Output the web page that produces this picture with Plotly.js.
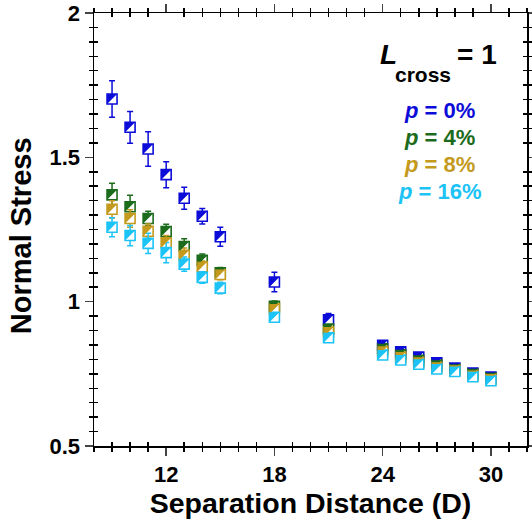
<!DOCTYPE html>
<html><head><meta charset="utf-8">
<script src="https://cdn.plot.ly/plotly-3.0.1.min.js"></script>
<style>html,body{margin:0;padding:0;background:#fff}#chart{width:532px;height:531px}</style>
</head><body><div id="chart"></div>
<script>
var distance = [9,10,11,12,13,14,15,18,21,24,25,26,27,28,29,30];
var seriesNames = ['p = 0%','p = 4%','p = 8%','p = 16%'];
var stressP0  = [1.702,1.604,1.529,1.440,1.358,1.296,1.225,1.068,0.937,0.849,0.826,0.808,0.788,0.770,0.753,0.739];
var errP0     = [0.063,0.055,0.060,0.045,0.038,0.027,0.033,0.034,0.022,0.008,0.008,0.008,0.008,0.008,0.008,0.008];
var stressP4  = [1.370,1.329,1.288,1.243,1.191,1.143,1.100,0.984,0.905,0.837,0.816,0.797,0.780,0.766,0.750,0.736];
var errP4     = [0.040,0.040,0.025,0.025,0.027,0.022,0.018,0.018,0.012,0.006,0.006,0.006,0.006,0.006,0.006,0.006];
var stressP8  = [1.320,1.288,1.244,1.204,1.161,1.121,1.094,0.975,0.895,0.828,0.808,0.790,0.773,0.762,0.744,0.732];
var errP8     = [0.030,0.030,0.025,0.025,0.025,0.020,0.018,0.015,0.012,0.006,0.006,0.006,0.006,0.006,0.006,0.006];
var stressP16 = [1.258,1.229,1.202,1.170,1.130,1.084,1.047,0.946,0.875,0.815,0.798,0.783,0.767,0.758,0.740,0.726];
var errP16    = [0.033,0.035,0.035,0.035,0.025,0.020,0.020,0.015,0.012,0.006,0.006,0.006,0.006,0.006,0.006,0.006];
var colors = ['#0c0cd8','#1c6b1c','#c49a1e','#1cc3f6'];
var xTicks = [12,18,24,30];
var yTicks = [0.5,1,1.5,2];

var ys = [stressP0, stressP4, stressP8, stressP16];
var es = [errP0, errP4, errP8, errP16];

var traces = [];
var shapes = [];
var half = 5;
for (var s = 0; s < 4; s++) {
  traces.push({
    type: 'scatter', mode: 'markers', name: seriesNames[s],
    x: distance, y: ys[s],
    error_y: {type: 'data', array: es[s], visible: true, color: colors[s], thickness: 1.5, width: 3},
    marker: {symbol: 'square', size: 2*half, color: '#ffffff', line: {color: colors[s], width: 1.6}},
    showlegend: false, cliponaxis: false
  });
}
for (var s2 = 0; s2 < 4; s2++) {
  for (var i = 0; i < distance.length; i++) {
    shapes.push({
      type: 'path', xref: 'x', yref: 'y',
      xsizemode: 'pixel', ysizemode: 'pixel',
      xanchor: distance[i], yanchor: ys[s2][i],
      path: 'M-' + half + ',' + half + ' L' + half + ',' + half + ' L-' + half + ',-' + half + ' Z',
      fillcolor: colors[s2], line: {width: 0}, layer: 'above'
    });
  }
}
// dummy trace to materialize the overlay axes (crossing minor ticks)
traces.push({type: 'scatter', x: [], y: [], xaxis: 'x2', yaxis: 'y2', showlegend: false, hoverinfo: 'skip'});

var xMinorVals = [], yMinorVals = [];
for (var k = 8; k <= 32; k++) if (xTicks.indexOf(k) < 0) xMinorVals.push(k);
for (var m = 10; m <= 40; m++) { var v = m / 20; if (m % 10 !== 0) yMinorVals.push(v); }

var fam = 'Liberation Sans, Arial, sans-serif';
function ann(x, y, text, size, color, angle) {
  return {xref: 'paper', yref: 'paper', x: x, y: y, xanchor: 'center', yanchor: 'middle', showarrow: false,
          text: text, textangle: angle || 0, font: {family: fam, size: size, color: color, weight: 'bold'}};
}
var layout = {
  width: 532, height: 531,
  margin: {l: 94, r: 5, t: 13, b: 85},
  paper_bgcolor: '#fff', plot_bgcolor: '#fff',
  showlegend: false,
  xaxis: {
    range: [8, 32], tickvals: xTicks, ticks: 'outside', ticklen: 8, tickwidth: 1.5,
    minor: {dtick: 1, tick0: 0, ticks: 'outside', ticklen: 4, tickwidth: 1.5, tickcolor: '#000'},
    showline: true, linewidth: 1.5, linecolor: '#000', mirror: 'ticks', showgrid: false, zeroline: false,
    tickfont: {family: fam, size: 22, weight: 'bold', color: '#000'}, ticklabelstandoff: 0,
    title: {text: 'Separation Distance (D)', font: {family: fam, size: 28.5, weight: 'bold', color: '#000'}, standoff: 7}
  },
  yaxis: {
    range: [0.5, 2], tickvals: yTicks, ticks: 'outside', ticklen: 8, tickwidth: 1.5,
    minor: {dtick: 0.05, tick0: 0, ticks: 'outside', ticklen: 4, tickwidth: 1.5, tickcolor: '#000'},
    showline: true, linewidth: 1.5, linecolor: '#000', mirror: 'ticks', showgrid: false, zeroline: false,
    tickfont: {family: fam, size: 22, weight: 'bold', color: '#000'}
  },
  xaxis2: {
    overlaying: 'x', anchor: 'y2', range: [8, 32], tickvals: xMinorVals, ticks: 'inside', ticklen: 4, tickwidth: 1.5,
    tickcolor: '#000', showticklabels: false, showline: false, mirror: 'ticks', showgrid: false, zeroline: false
  },
  yaxis2: {
    overlaying: 'y', anchor: 'x2', range: [0.5, 2], tickvals: yMinorVals, ticks: 'inside', ticklen: 4, tickwidth: 1.5,
    tickcolor: '#000', showticklabels: false, showline: false, mirror: 'ticks', showgrid: false, zeroline: false
  },
  shapes: shapes,
  annotations: [
    ann(-0.1686, 0.487, 'Normal Stress', 29, '#000', -90),
    ann(0.679, 0.9048, '<i>L</i>', 28, '#000'),
    ann(0.7587, 0.857, 'cross', 21, '#000'),
    ann(0.8834, 0.9048, '= 1', 28, '#000'),
    ann(0.799, 0.774, '<i>p</i> = 0%', 22, colors[0]),
    ann(0.799, 0.712, '<i>p</i> = 4%', 22, colors[1]),
    ann(0.799, 0.651, '<i>p</i> = 8%', 22, colors[2]),
    ann(0.799, 0.587, '<i>p</i> = 16%', 22, colors[3])
  ]
};
Plotly.newPlot('chart', traces, layout, {staticPlot: true, displayModeBar: false});
</script></body></html>
